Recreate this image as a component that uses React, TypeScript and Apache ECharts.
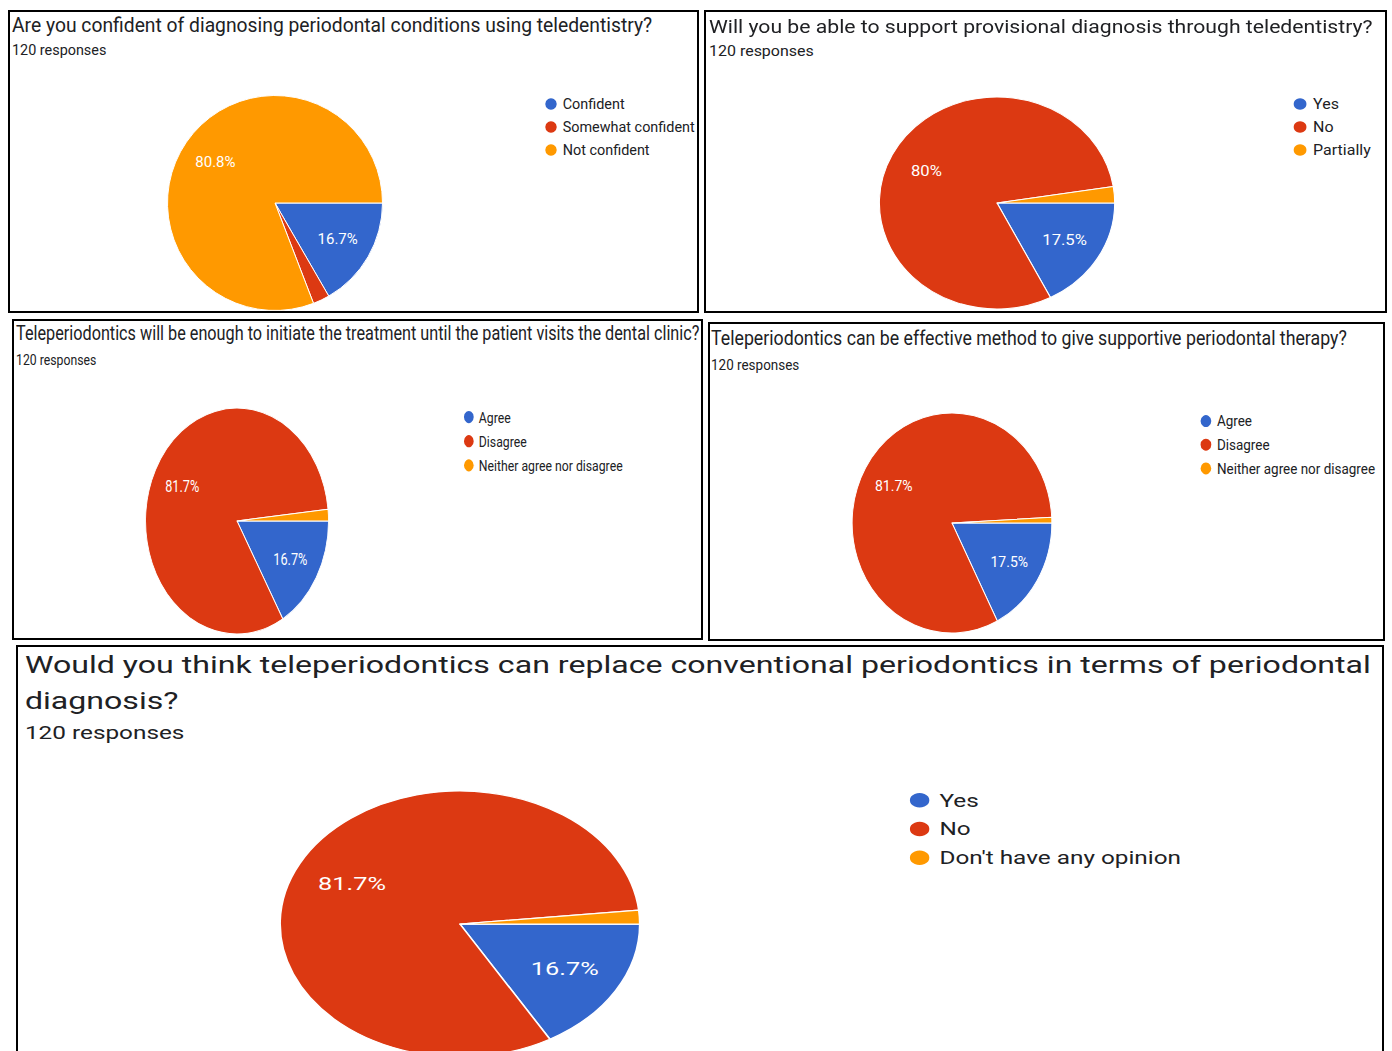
import React, { useEffect, useRef } from 'react';
import * as echarts from 'echarts';

// ---------- data ----------
const TOTAL_RESPONSES = 120;
const sliceColors = ['#3366CC', '#DC3912', '#FF9900'];

const q1Title = 'Are you confident of diagnosing periodontal conditions using teledentistry?';
const q1Categories = ['Confident', 'Somewhat confident', 'Not confident'];
const q1Values = [20, 3, 97];

const q2Title = 'Will you be able to support provisional diagnosis through teledentistry?';
const q2Categories = ['Yes', 'No', 'Partially'];
const q2Values = [21, 96, 3];

const q3Title = 'Teleperiodontics will be enough to initiate the treatment until the patient visits the dental clinic?';
const q3Categories = ['Agree', 'Disagree', 'Neither agree nor disagree'];
const q3Values = [20, 98, 2];

const q4Title = 'Teleperiodontics can be effective method to give supportive periodontal therapy?';
const q4Categories = ['Agree', 'Disagree', 'Neither agree nor disagree'];
const q4Values = [21, 98, 1];

const q5Title = 'Would you think teleperiodontics can replace conventional periodontics in terms of periodontal\ndiagnosis?';
const q5Categories = ['Yes', 'No', "Don't have any opinion"];
const q5Values = [20, 98, 2];

const subtitleText = `${TOTAL_RESPONSES} responses`;

// ---------- layout (page box, scale, base-space positions) ----------
type Layout = {
  left: number; top: number; width: number; height: number;
  sx: number; sy: number;
  titleX: number; titleCY: number; titleLH: number; titleSize: number;
  subCY: number;
  legendX: number; legendCY: number;
  cx: number; cy: number; r: number;
};

const BORDER = 2;

const layouts: Layout[] = [
  { left: 8, top: 10, width: 691, height: 303, sx: 1, sy: 1,
    titleX: 2, titleCY: 13, titleLH: 22, titleSize: 19.3, subCY: 38, legendX: 540, legendCY: 91, cx: 265, cy: 191, r: 107.5 },
  { left: 704, top: 10, width: 683, height: 303, sx: 1.11, sy: 1,
    titleX: 2.7, titleCY: 14, titleLH: 22, titleSize: 19.1, subCY: 39, legendX: 534.2, legendCY: 91, cx: 262.2, cy: 191, r: 106 },
  { left: 12, top: 319, width: 691, height: 321, sx: 0.85, sy: 1.05,
    titleX: 2.4, titleCY: 11.4, titleLH: 22, titleSize: 19.1, subCY: 37.1, legendX: 534.1, legendCY: 90.5, cx: 262.4, cy: 190.5, r: 107.6 },
  { left: 708, top: 322, width: 677, height: 319, sx: 0.935, sy: 1.03,
    titleX: 1.1, titleCY: 14.6, titleLH: 22, titleSize: 19.0, subCY: 39.8, legendX: 529.4, legendCY: 93.2, cx: 258.8, cy: 193.2, r: 106.8 },
  { left: 16, top: 645, width: 1368, height: 430, sx: 1.69, sy: 1.25,
    titleX: 4.1, titleCY: 14.4, titleLH: 28.8, titleSize: 19.0, subCY: 68.8, legendX: 532.5, legendCY: 121.6, cx: 261.5, cy: 221.6, r: 106.4 },
];

const questions = [
  { title: q1Title, categories: q1Categories, values: q1Values },
  { title: q2Title, categories: q2Categories, values: q2Values },
  { title: q3Title, categories: q3Categories, values: q3Values },
  { title: q4Title, categories: q4Categories, values: q4Values },
  { title: q5Title, categories: q5Categories, values: q5Values },
];

const FONT = 'Roboto, Arial, sans-serif';
const SUB_SIZE = 14.4;
const LEGEND_SIZE = 14.4;
const LABEL_SIZE = 15;
const ICON = 13.5;
const LEGEND_STEP = 22.5;
const LEGEND_TEXT_H = 15;

function pctText(v: number) {
  const p = (v / TOTAL_RESPONSES) * 100;
  const s = p.toFixed(1);
  return (s.endsWith('.0') ? s.slice(0, -2) : s) + '%';
}

function buildOption(q: { title: string; categories: string[]; values: number[] }, L: Layout) {
  const mainData = q.categories.map((name, i) => ({
    name,
    value: q.values[i],
    itemStyle: { color: sliceColors[i] },
  }));
  const labelData = q.categories.map((name, i) => ({
    name,
    value: q.values[i],
    itemStyle: { color: 'rgba(0,0,0,0)' },
    label: { show: q.values[i] / TOTAL_RESPONSES >= 0.05 },
  }));
  return {
    animation: false,
    backgroundColor: '#ffffff',
    title: [
      {
        text: q.title,
        left: L.titleX,
        top: L.titleCY - L.titleLH / 2,
        padding: 0,
        textStyle: {
          fontFamily: FONT, fontSize: L.titleSize, fontWeight: 'normal',
          color: '#202124', lineHeight: L.titleLH,
        },
      },
      {
        text: subtitleText,
        left: L.titleX,
        top: L.subCY - 8,
        padding: 0,
        textStyle: {
          fontFamily: FONT, fontSize: SUB_SIZE, fontWeight: 'normal',
          color: '#202124', lineHeight: 16,
        },
      },
    ],
    legend: {
      orient: 'vertical',
      left: L.legendX - ICON / 2,
      top: L.legendCY - ICON / 2,
      padding: 0,
      icon: 'circle',
      itemWidth: ICON,
      itemHeight: ICON,
      itemGap: LEGEND_STEP - LEGEND_TEXT_H,
      selectedMode: false,
      textStyle: { fontFamily: FONT, fontSize: LEGEND_SIZE, color: '#202124' },
      data: q.categories.map((name, i) => ({ name, itemStyle: { color: sliceColors[i] } })),
    },
    series: [
      {
        type: 'pie',
        center: [L.cx, L.cy],
        radius: [0, L.r],
        startAngle: 0,
        clockwise: true,
        avoidLabelOverlap: false,
        label: { show: false },
        labelLine: { show: false },
        itemStyle: { borderColor: '#ffffff', borderWidth: 1 },
        emphasis: { disabled: true },
        data: mainData,
      },
      {
        type: 'pie',
        center: [L.cx, L.cy],
        radius: [L.r * 0.29, L.r],
        startAngle: 0,
        clockwise: true,
        silent: true,
        avoidLabelOverlap: false,
        itemStyle: { borderWidth: 0 },
        emphasis: { disabled: true },
        label: {
          position: 'inside',
          color: '#ffffff',
          fontFamily: FONT,
          fontSize: LABEL_SIZE,
          formatter: (p: any) => pctText(p.value),
        },
        labelLine: { show: false },
        data: labelData,
      },
    ],
  };
}

function Panel({ index }: { index: number }) {
  const ref = useRef<HTMLDivElement>(null);
  const L = layouts[index];
  const q = questions[index];
  const innerW = L.width - 2 * BORDER;
  const innerH = L.height - 2 * BORDER;
  const baseW = innerW / L.sx;
  const baseH = innerH / L.sy;
  useEffect(() => {
    if (!ref.current) return;
    const chart = echarts.init(ref.current, undefined, { renderer: 'svg', width: baseW, height: baseH });
    chart.setOption(buildOption(q, L) as any);
    return () => chart.dispose();
  }, []);
  return (
    <div
      style={{
        position: 'absolute', left: L.left, top: L.top, width: L.width, height: L.height,
        border: `${BORDER}px solid #000`, boxSizing: 'border-box', overflow: 'hidden', background: '#fff',
      }}
    >
      <div
        ref={ref}
        style={{
          position: 'absolute', left: 0, top: 0, width: baseW, height: baseH,
          transform: `scale(${L.sx}, ${L.sy})`, transformOrigin: '0 0',
        }}
      />
    </div>
  );
}

export default function App() {
  return (
    <div style={{ position: 'absolute', left: 0, top: 0, width: 1392, height: 1051, overflow: 'hidden', background: '#fff' }}>
      {questions.map((_, i) => (
        <Panel key={i} index={i} />
      ))}
    </div>
  );
}
